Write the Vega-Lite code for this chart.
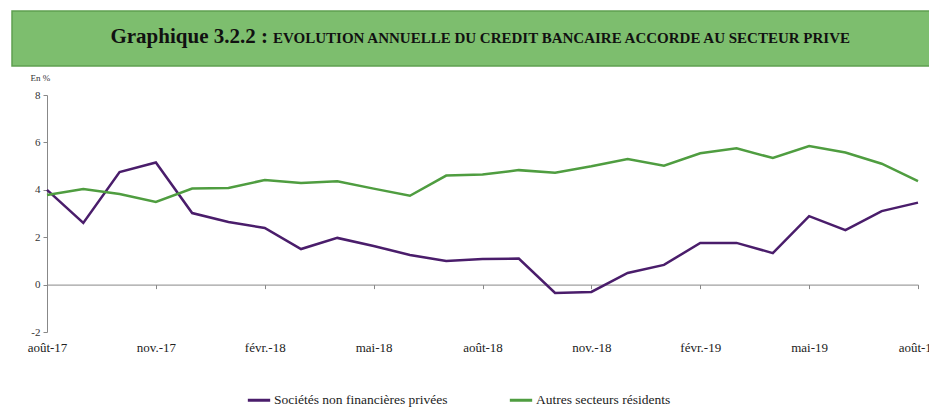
{
  "$schema": "https://vega.github.io/schema/vega-lite/v6.json",
  "background": "white",
  "padding": {"left": 11, "top": 10, "right": 0, "bottom": 0},
  "spacing": 6,
  "config": {
    "font": "Liberation Serif",
    "view": {"stroke": null},
    "axis": {"labelFont": "Liberation Serif", "titleFont": "Liberation Serif"},
    "legend": {"labelFont": "Liberation Serif", "titleFont": "Liberation Serif"},
    "text": {"font": "Liberation Serif"}
  },
  "vconcat": [
    {
      "width": 918,
      "height": 55,
      "view": {"fill": "#7DBE6E", "stroke": "#5FA050", "strokeWidth": 1.5},
      "data": {"values": [{"t1": "Graphique 3.2.2 :", "t2": "EVOLUTION ANNUELLE DU CREDIT BANCAIRE ACCORDE AU SECTEUR PRIVE"}]},
      "layer": [
        {
          "mark": {"type": "text", "align": "right", "baseline": "alphabetic", "dx": -203, "dy": 4, "font": "Liberation Serif", "fontWeight": "bold", "fontSize": 21, "color": "#111111"},
          "encoding": {"text": {"field": "t1"}}
        },
        {
          "mark": {"type": "text", "align": "left", "baseline": "alphabetic", "dx": -198, "dy": 4, "font": "Liberation Serif", "fontWeight": "bold", "fontSize": 15, "color": "#111111"},
          "encoding": {"text": {"field": "t2"}}
        }
      ]
    },
    {
      "spacing": 0,
      "hconcat": [
        {
          "width": 15,
          "height": 237,
          "data": {"values": []},
          "mark": {"type": "point", "opacity": 0}
        },
        {
          "width": 871,
          "height": 237,
          "data": {"values": [
            {"mois": "août-17", "serie": "Sociétés non financières privées", "valeur": 4.0},
            {"mois": "sept.-17", "serie": "Sociétés non financières privées", "valeur": 2.6},
            {"mois": "oct.-17", "serie": "Sociétés non financières privées", "valeur": 4.75},
            {"mois": "nov.-17", "serie": "Sociétés non financières privées", "valeur": 5.15},
            {"mois": "déc.-17", "serie": "Sociétés non financières privées", "valeur": 3.02},
            {"mois": "janv.-18", "serie": "Sociétés non financières privées", "valeur": 2.64},
            {"mois": "févr.-18", "serie": "Sociétés non financières privées", "valeur": 2.39},
            {"mois": "mars-18", "serie": "Sociétés non financières privées", "valeur": 1.5},
            {"mois": "avr.-18", "serie": "Sociétés non financières privées", "valeur": 1.97},
            {"mois": "mai-18", "serie": "Sociétés non financières privées", "valeur": 1.63},
            {"mois": "juin-18", "serie": "Sociétés non financières privées", "valeur": 1.25},
            {"mois": "juil.-18", "serie": "Sociétés non financières privées", "valeur": 1.0},
            {"mois": "août-18", "serie": "Sociétés non financières privées", "valeur": 1.08},
            {"mois": "sept.-18", "serie": "Sociétés non financières privées", "valeur": 1.1},
            {"mois": "oct.-18", "serie": "Sociétés non financières privées", "valeur": -0.35},
            {"mois": "nov.-18", "serie": "Sociétés non financières privées", "valeur": -0.31},
            {"mois": "déc.-18", "serie": "Sociétés non financières privées", "valeur": 0.49},
            {"mois": "janv.-19", "serie": "Sociétés non financières privées", "valeur": 0.83},
            {"mois": "févr.-19", "serie": "Sociétés non financières privées", "valeur": 1.76},
            {"mois": "mars-19", "serie": "Sociétés non financières privées", "valeur": 1.76},
            {"mois": "avr.-19", "serie": "Sociétés non financières privées", "valeur": 1.33},
            {"mois": "mai-19", "serie": "Sociétés non financières privées", "valeur": 2.89},
            {"mois": "juin-19", "serie": "Sociétés non financières privées", "valeur": 2.3},
            {"mois": "juil.-19", "serie": "Sociétés non financières privées", "valeur": 3.1},
            {"mois": "août-19", "serie": "Sociétés non financières privées", "valeur": 3.46},
            {"mois": "août-17", "serie": "Autres secteurs résidents", "valeur": 3.78},
            {"mois": "sept.-17", "serie": "Autres secteurs résidents", "valeur": 4.03},
            {"mois": "oct.-17", "serie": "Autres secteurs résidents", "valeur": 3.82},
            {"mois": "nov.-17", "serie": "Autres secteurs résidents", "valeur": 3.49},
            {"mois": "déc.-17", "serie": "Autres secteurs résidents", "valeur": 4.05},
            {"mois": "janv.-18", "serie": "Autres secteurs résidents", "valeur": 4.08},
            {"mois": "févr.-18", "serie": "Autres secteurs résidents", "valeur": 4.41},
            {"mois": "mars-18", "serie": "Autres secteurs résidents", "valeur": 4.29},
            {"mois": "avr.-18", "serie": "Autres secteurs résidents", "valeur": 4.36},
            {"mois": "mai-18", "serie": "Autres secteurs résidents", "valeur": 4.05},
            {"mois": "juin-18", "serie": "Autres secteurs résidents", "valeur": 3.75},
            {"mois": "juil.-18", "serie": "Autres secteurs résidents", "valeur": 4.6},
            {"mois": "août-18", "serie": "Autres secteurs résidents", "valeur": 4.65},
            {"mois": "sept.-18", "serie": "Autres secteurs résidents", "valeur": 4.83},
            {"mois": "oct.-18", "serie": "Autres secteurs résidents", "valeur": 4.72},
            {"mois": "nov.-18", "serie": "Autres secteurs résidents", "valeur": 4.99},
            {"mois": "déc.-18", "serie": "Autres secteurs résidents", "valeur": 5.3},
            {"mois": "janv.-19", "serie": "Autres secteurs résidents", "valeur": 5.02},
            {"mois": "févr.-19", "serie": "Autres secteurs résidents", "valeur": 5.54},
            {"mois": "mars-19", "serie": "Autres secteurs résidents", "valeur": 5.75},
            {"mois": "avr.-19", "serie": "Autres secteurs résidents", "valeur": 5.34},
            {"mois": "mai-19", "serie": "Autres secteurs résidents", "valeur": 5.85},
            {"mois": "juin-19", "serie": "Autres secteurs résidents", "valeur": 5.57},
            {"mois": "juil.-19", "serie": "Autres secteurs résidents", "valeur": 5.1},
            {"mois": "août-19", "serie": "Autres secteurs résidents", "valeur": 4.37}
          ]},
          "mark": {"type": "line", "strokeWidth": 2.5},
          "encoding": {
            "x": {
              "field": "mois",
              "type": "ordinal",
              "sort": null,
              "scale": {"type": "point", "padding": 0},
              "axis": {
                "values": ["août-17", "nov.-17", "févr.-18", "mai-18", "août-18", "nov.-18", "févr.-19", "mai-19", "août-19"],
                "title": null,
                "labelAngle": 0,
                "offset": -47.4,
                "grid": false,
                "tickSize": 4,
                "tickColor": "#888888",
                "domainColor": "#888888",
                "labelPadding": 53,
                "labelFont": "Liberation Serif",
                "labelFontSize": 13,
                "labelColor": "#222222",
                "labelOverlap": false
              }
            },
            "y": {
              "field": "valeur",
              "type": "quantitative",
              "scale": {"domain": [-2, 8], "nice": false},
              "axis": {
                "values": [-2, 0, 2, 4, 6, 8],
                "labelExpr": "'' + datum.value",
                "grid": false,
                "tickSize": 4,
                "tickColor": "#888888",
                "domainColor": "#888888",
                "labelPadding": 3,
                "labelFont": "Liberation Serif",
                "labelFontSize": 11,
                "labelColor": "#333333",
                "title": "En %",
                "titleFont": "Liberation Serif",
                "titleAngle": 0,
                "titleX": -17,
                "titleY": -18,
                "titleAlign": "left",
                "titleBaseline": "middle",
                "titleFontSize": 9,
                "titleFontWeight": "normal",
                "titleColor": "#333333"
              }
            },
            "color": {
              "field": "serie",
              "type": "nominal",
              "scale": {"domain": ["Sociétés non financières privées", "Autres secteurs résidents"], "range": ["#4A1D6B", "#4F9D40"]},
              "legend": {
                "orient": "none",
                "legendX": 234,
                "legendY": 376,
                "direction": "horizontal",
                "title": null,
                "symbolType": "stroke",
                "symbolStrokeWidth": 3,
                "symbolSize": 500,
                "labelFont": "Liberation Serif",
                "labelFontSize": 13.5,
                "labelColor": "#222222",
                "labelLimit": 0,
                "columnPadding": 55,
                "labelOffset": 2
              }
            }
          }
        }
      ]
    }
  ]
}
